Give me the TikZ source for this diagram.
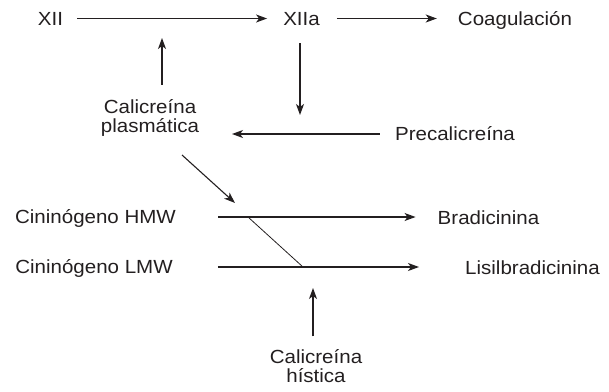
\documentclass[tikz,border=0pt]{standalone}
\usepackage{fontspec}
\setmainfont{Liberation Sans}[FakeStretch=1.08]
\usetikzlibrary{arrows.meta}
\definecolor{ink}{HTML}{231F20}
\begin{document}
\begin{tikzpicture}[x=1pt,y=-1pt,
  lbl/.style={inner sep=0pt, text=ink, font=\fontsize{19}{19.5}\selectfont, anchor=base, text height=13pt, text depth=0pt},
  lbl2/.style={inner sep=0pt, text=ink, font=\fontsize{19}{19.5}\selectfont, align=center},
  arr/.style={line width=1.1pt, draw=ink, -{Stealth[length=11pt,width=8pt,inset=3pt]}},
  thinline/.style={line width=0.8pt, draw=ink}]
\useasboundingbox (0,0) rectangle (609,391);
% nodes
\node[lbl] (xii) at (50.5,25) {XII};
\node[lbl] (xiia) at (301.5,25) {XIIa};
\node[lbl] (coag) at (515,25) {Coagulación};
\node[lbl2] (calp) at (150,118) {Calicreína\\plasmática};
\node[lbl] (pre) at (455,140.5) {Precalicreína};
\node[lbl] (hmw) at (95.5,223.5) {Cininógeno HMW};
\node[lbl] (lmw) at (94,273.5) {Cininógeno LMW};
\node[lbl] (brad) at (488.5,224.5) {Bradicinina};
\node[lbl] (lis) at (532.5,274.5) {Lisilbradicinina};
\node[lbl2] (calh) at (316,366) {Calicreína\\hística};
% free ends
\coordinate (upend) at (162,38);
\coordinate (dnend) at (300,115);
\coordinate (lfend) at (232,134);
\coordinate (dgs) at (182,155);
\coordinate (dge) at (235,203);
\coordinate (x1) at (248,217);
\coordinate (x2) at (303,267);
\coordinate (bend) at (313,288);
% connectors
\draw[arr, shorten <=14pt, shorten >=16pt] (xii.east) -- (xiia.west);
\draw[arr, shorten <=17pt, shorten >=21pt] (xiia.east) -- (coag.west);
\draw[arr, shorten <=14.5pt] (calp.north -| upend) -- (upend);
\draw[arr, shorten <=18pt] (xiia.south -| dnend) -- (dnend);
\draw[arr, shorten <=15pt] (pre.west) -- (pre.west -| lfend);
\draw[arr] (dgs) -- (dge);
\draw[arr, shorten <=42pt, shorten >=22pt] (hmw.east) -- (hmw.east -| brad.west);
\draw[arr, shorten <=45pt, shorten >=46pt] (lmw.east) -- (lmw.east -| lis.west);
\draw[thinline] (x1) -- (x2);
\draw[arr, shorten <=12.5pt] (calh.north -| bend) -- (bend);
\end{tikzpicture}
\end{document}
